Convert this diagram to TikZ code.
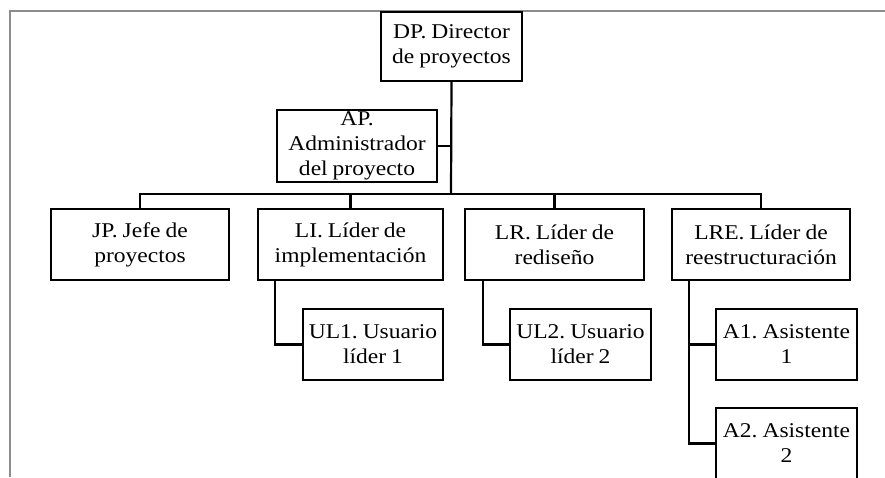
\documentclass[tikz,border=0pt]{standalone}
\usepackage{fontspec}
\setmainfont{Liberation Serif}[FakeStretch=1.12, WordSpace=0.85]
\frenchspacing
\begin{document}
\begin{tikzpicture}[x=1pt, y=-1pt,
        caja/.style={draw, line width=2.2pt, fill=white, inner sep=0pt, align=center,
            font=\fontsize{21}{25}\selectfont},
        enlace/.style={line width=2.2pt}]
        \path[use as bounding box] (0,0) rectangle (885,477);
        \clip (0,0) rectangle (885,477);
        \draw[gray!90, line width=1.2pt] (885,11) -- (10,11) -- (10,477);

        \node [caja, minimum width=141pt, minimum height=69pt] (DP) at (451.5,46.5) {DP. Director\\de proyectos};
        \node [caja, minimum width=160pt, minimum height=72pt] (AP) at (357,146) {AP.\\Administrador\\del proyecto};

        \node [caja, minimum width=178pt, minimum height=71pt] (JP) at (140,244.5) {JP. Jefe de\\proyectos};
        \node [caja, minimum width=185pt, minimum height=71pt] (LI) at (350.5,244.5) {LI. L\'ider de\\implementaci\'on};
        \node [caja, minimum width=179pt, minimum height=71pt] (LR) at (554.5,244.5) {LR. L\'ider de\\redise\~no};
        \node [caja, minimum width=178pt, minimum height=71pt] (LRE) at (761,244.5) {LRE. L\'ider de\\reestructuraci\'on};

        \node [caja, minimum width=140pt, minimum height=71pt] (UL1) at (373,344.5) {UL1. Usuario\\l\'ider 1};
        \node [caja, minimum width=141pt, minimum height=71pt] (UL2) at (580.5,344.5) {UL2. Usuario\\l\'ider 2};
        \node [caja, minimum width=141pt, minimum height=71pt] (A1) at (786.5,344.5) {A1. Asistente\\1};
        \node [caja, minimum width=141pt, minimum height=71pt] (A2) at (786.5,443.5) {A2. Asistente\\2};

        \coordinate (bus) at (451,194);
        \draw [enlace] (DP.south) -- (bus);
        \draw [enlace] (AP.east) -- (AP.east -| DP.south);
        \draw [enlace] (JP.north) |- (bus) -| (LRE.north);
        \draw [enlace] (LI.north) -- (LI.north |- bus);
        \draw [enlace] (LR.north) -- (LR.north |- bus);

        \draw [enlace] ([xshift=18pt]LI.south west) |- (UL1.west);
        \draw [enlace] ([xshift=19pt]LR.south west) |- (UL2.west);
        \draw [enlace] ([xshift=18pt]LRE.south west) |- (A2.west);
        \draw [enlace] ([xshift=18pt]LRE.south west |- A1.west) -- (A1.west);
\end{tikzpicture}
\end{document}
